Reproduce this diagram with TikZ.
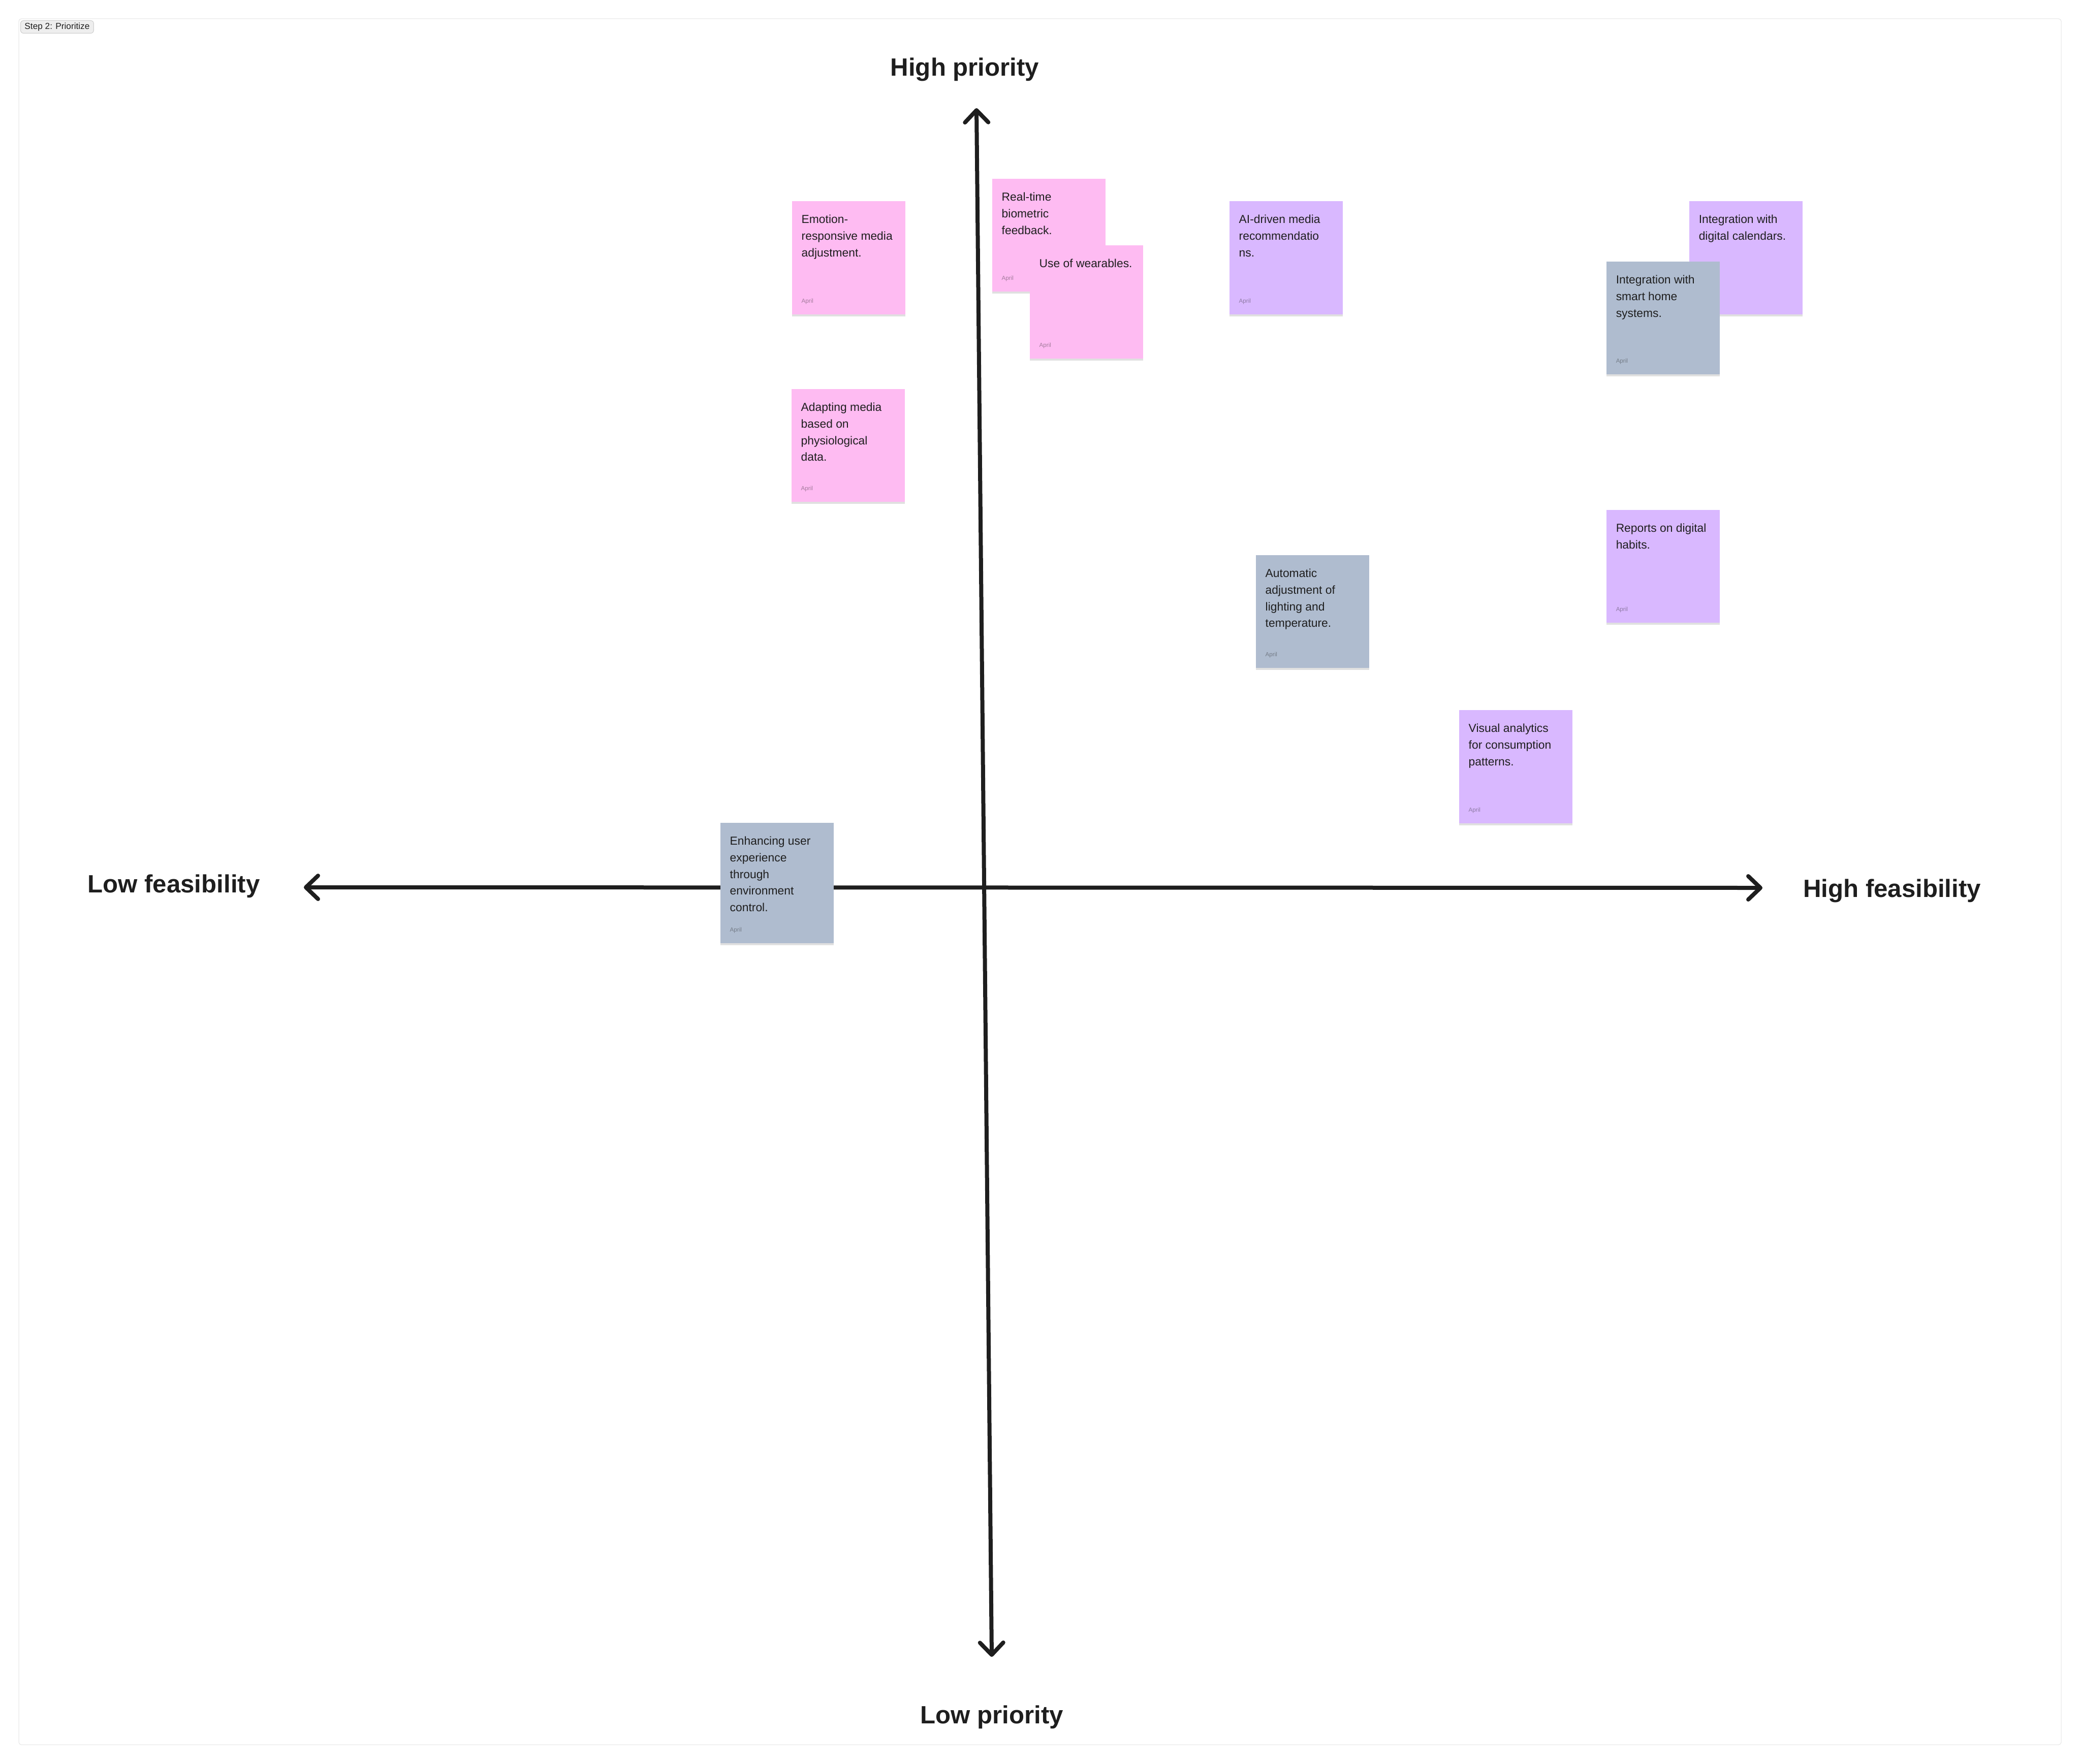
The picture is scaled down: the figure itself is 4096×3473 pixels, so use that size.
\documentclass[tikz,border=0pt]{standalone}
\usepackage{fontspec}
\setmainfont{Liberation Sans}
\usetikzlibrary{positioning,arrows.meta,shadows}
\definecolor{ink}{HTML}{1E1E1E}
\definecolor{notepink}{HTML}{FEBBF2}
\definecolor{noteviolet}{HTML}{D9B8FF}
\definecolor{noteslate}{HTML}{AFBCCF}
\definecolor{framegrey}{HTML}{E3E3E3}
\definecolor{tagfill}{HTML}{EEEEEE}
\definecolor{tagline}{HTML}{CCCCCC}
\tikzset{
  sticky/.style={fill=#1,anchor=north west,inner sep=0pt,minimum width=22.3mm,
    drop shadow={shadow xshift=0pt,shadow yshift=-1.1pt,opacity=0.12,fill=black}},
  stickytext/.style={anchor=north west,inner sep=0pt,align=left,text=ink,
    font=\fontsize{6.5}{9.36}\selectfont},
  stickydate/.style={anchor=base west,inner sep=0pt,text=ink,text opacity=0.4,
    font=\fontsize{3.3}{4}\selectfont},
  axis/.style={draw=ink,line width=0.8mm,
    {Straight Barb[length=2.4mm,width=4.6mm,round]}-{Straight Barb[length=2.4mm,width=4.6mm,round]}},
  axislabel/.style={anchor=base,inner sep=0pt,text=ink,font=\bfseries\fontsize{14}{16}\selectfont},
  tag/.style={anchor=north west,fill=tagfill,draw=tagline,line width=0.1mm,rounded corners=0.6mm,
    inner xsep=0.8mm,inner ysep=0pt,minimum height=2.5mm,text=ink,font=\fontsize{4.9}{5}\selectfont},
}
\begin{document}
\begin{tikzpicture}[x=0.1mm,y=-0.1mm]
\useasboundingbox (0,0) rectangle (4096,3473);
% board
\draw[framegrey,line width=0.1mm,rounded corners=0.5mm] (37,37) rectangle (4057,3435);
\node[tag] (steptag) at (40,40) {Step 2: Prioritize};
% axes
\coordinate (ptop) at (1922,213);
\coordinate (pbot) at (1952,3262);
\coordinate (fleft) at (598,1747);
\coordinate (fright) at (3469,1748);
\draw[axis] (pbot) -- (ptop);
\draw[axis] (fleft) -- (fright);
\node[axislabel] (hiprio) at (1899,150) {High priority};
\node[axislabel] (loprio) at (1952,3393) {Low priority};
\node[axislabel] (lofeas) at (342,1757) {Low feasibility};
\node[axislabel] (hifeas) at (3724,1766) {High feasibility};
% stickies
\foreach \nm/\x/\y/\h/\c/\t in {
  emo/1558/395/223/notepink/{Emotion-\\responsive media\\adjustment.},
  rtb/1952/351/222/notepink/{Real-time\\biometric\\feedback.},
  wear/2026/482/223/notepink/{Use of wearables.},
  aimr/2419/395/223/noteviolet/{AI-driven media\\recommendatio\\ns.},
  cal/3324/395/223/noteviolet/{Integration with\\digital calendars.},
  home/3161/514/222/noteslate/{Integration with\\smart home\\systems.},
  phys/1557/765/222/notepink/{Adapting media\\based on\\physiological\\data.},
  habit/3161/1003/222/noteviolet/{Reports on digital\\habits.},
  light/2471/1092/222/noteslate/{Automatic\\adjustment of\\lighting and\\temperature.},
  visual/2871/1397/223/noteviolet/{Visual analytics\\for consumption\\patterns.},
  env/1417/1619/237/noteslate/{Enhancing user\\experience\\through\\environment\\control.}}{
  \node[sticky=\c,minimum height=\h*0.1mm] (\nm) at (\x,\y) {};
  \node[stickytext] (\nm-txt) at ([shift={(19,27)}]\nm.north west) {\t};
  \node[stickydate] (\nm-date) at ([shift={(19,-23)}]\nm.south west) {April};
}
\end{tikzpicture}
\end{document}
